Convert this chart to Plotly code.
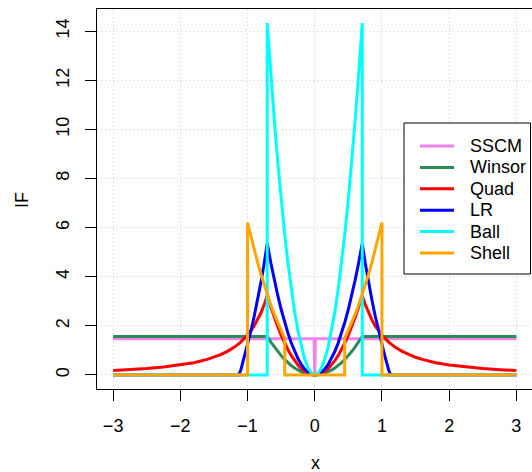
import plotly.graph_objects as go

# ---------------- data ----------------
series_names = ["SSCM", "Winsor", "Quad", "LR", "Ball", "Shell"]
series_colors = ["#EE82EE", "#2E8B57", "#FF0000", "#0000FF", "#00FFFF", "#FFA500"]

sscm_x = [-3.0, -0.01, 0.0, 0.01, 3.0]
sscm_y = [1.47, 1.47, 0.0, 1.47, 1.47]

winsor_x = [-3.0, -0.7071, -0.65, -0.6, -0.55, -0.5, -0.45, -0.4, -0.35, -0.3, -0.25, -0.2, -0.15, -0.1, -0.05,
            0.0, 0.05, 0.1, 0.15, 0.2, 0.25, 0.3, 0.35, 0.4, 0.45, 0.5, 0.55, 0.6, 0.65, 0.7071, 3.0]
winsor_y = [1.57, 1.57, 1.327, 1.13, 0.95, 0.785, 0.636, 0.502, 0.385, 0.283, 0.196, 0.126, 0.071, 0.031, 0.008,
            0.0, 0.008, 0.031, 0.071, 0.126, 0.196, 0.283, 0.385, 0.502, 0.636, 0.785, 0.95, 1.13, 1.327, 1.57, 1.57]

quad_x = [-3.0, -2.75, -2.5, -2.25, -2.0, -1.8, -1.6, -1.5, -1.4, -1.3, -1.2, -1.1, -1.0, -0.95, -0.9, -0.85,
          -0.8, -0.75, -0.7071, -0.65, -0.6, -0.55, -0.5, -0.45, -0.4, -0.35, -0.3, -0.25, -0.2, -0.15, -0.1,
          -0.05, 0.0, 0.05, 0.1, 0.15, 0.2, 0.25, 0.3, 0.35, 0.4, 0.45, 0.5, 0.55, 0.6, 0.65, 0.7071, 0.75, 0.8,
          0.85, 0.9, 0.95, 1.0, 1.1, 1.2, 1.3, 1.4, 1.5, 1.6, 1.8, 2.0, 2.25, 2.5, 2.75, 3.0]
quad_y = [0.18, 0.214, 0.259, 0.32, 0.405, 0.5, 0.633, 0.72, 0.827, 0.959, 1.125, 1.339, 1.62, 1.795, 2.0, 2.242,
          2.531, 2.88, 3.24, 2.738, 2.333, 1.96, 1.62, 1.312, 1.037, 0.794, 0.583, 0.405, 0.259, 0.146, 0.065,
          0.016, 0.0, 0.016, 0.065, 0.146, 0.259, 0.405, 0.583, 0.794, 1.037, 1.312, 1.62, 1.96, 2.333, 2.738, 3.24,
          2.88, 2.531, 2.242, 2.0, 1.795, 1.62, 1.339, 1.125, 0.959, 0.827, 0.72, 0.633, 0.5, 0.405, 0.32, 0.259,
          0.214, 0.18]

lr_x = [-3.0, -1.13, -1.1, -1.05, -1.0, -0.95, -0.9, -0.85, -0.8, -0.75, -0.7071, -0.65, -0.6, -0.55, -0.5, -0.45,
        -0.4, -0.35, -0.3, -0.25, -0.2, -0.15, -0.1, -0.05, 0.0, 0.05, 0.1, 0.15, 0.2, 0.25, 0.3, 0.35, 0.4, 0.45,
        0.5, 0.55, 0.6, 0.65, 0.7071, 0.75, 0.8, 0.85, 0.9, 0.95, 1.0, 1.05, 1.1, 1.13, 3.0]
lr_y = [0.0, 0.0, 0.2, 0.7, 1.23, 1.79, 2.4, 3.06, 3.78, 4.58, 5.35, 4.52, 3.852, 3.237, 2.675, 2.167,
        1.712, 1.311, 0.963, 0.669, 0.428, 0.241, 0.107, 0.027, 0.0, 0.027, 0.107, 0.241, 0.428, 0.669, 0.963,
        1.311, 1.712, 2.167, 2.675, 3.237, 3.852, 4.52, 5.35, 4.58, 3.78, 3.06, 2.4, 1.79, 1.23, 0.7, 0.2, 0.0, 0.0]

ball_x = [-3.0, -0.7072, -0.7071, -0.65, -0.6, -0.55, -0.5, -0.45, -0.4, -0.35, -0.3, -0.25, -0.2, -0.15, -0.1,
          -0.05, 0.0, 0.05, 0.1, 0.15, 0.2, 0.25, 0.3, 0.35, 0.4, 0.45, 0.5, 0.55, 0.6, 0.65, 0.7071, 0.7072, 3.0]
ball_y = [0.0, 0.0, 14.33, 12.11, 10.32, 8.67, 7.165, 5.8, 4.586, 3.511, 2.579, 1.791, 1.146, 0.645, 0.287,
          0.072, 0.0, 0.072, 0.287, 0.645, 1.146, 1.791, 2.579, 3.511, 4.586, 5.8, 7.165, 8.67, 10.32, 12.11, 14.33,
          0.0, 0.0]

shell_x = [-3.0, -1.0001, -1.0, -0.95, -0.9, -0.85, -0.8, -0.75, -0.7, -0.65, -0.6, -0.55, -0.5, -0.446, -0.4459,
           0.4459, 0.446, 0.5, 0.55, 0.6, 0.65, 0.7, 0.75, 0.8, 0.85, 0.9, 0.95, 1.0, 1.0001, 3.0]
shell_y = [0.0, 0.0, 6.2, 5.63, 5.09, 4.58, 4.09, 3.64, 3.22, 2.82, 2.46, 2.12, 1.81, 1.48, 0.0,
           0.0, 1.48, 1.81, 2.12, 2.46, 2.82, 3.22, 3.64, 4.09, 4.58, 5.09, 5.63, 6.2, 0.0, 0.0]

x_ticks = [-3, -2, -1, 0, 1, 2, 3]
y_ticks = [0, 2, 4, 6, 8, 10, 12, 14]

# ---------------- figure ----------------
FONT = "Liberation Sans, Arial, Helvetica, sans-serif"
FS = 18
W, H = 532, 472
ML, MR, MT, MB = 97, 0, 9, 83
PW, PH = W - ML - MR, H - MT - MB

all_x = [sscm_x, winsor_x, quad_x, lr_x, ball_x, shell_x]
all_y = [sscm_y, winsor_y, quad_y, lr_y, ball_y, shell_y]

fig = go.Figure()
for name, color, xs, ys in zip(series_names, series_colors, all_x, all_y):
    fig.add_trace(go.Scatter(x=xs, y=ys, mode="lines", name=name, showlegend=False,
                             line=dict(color=color, width=3)))

axis_common = dict(
    automargin=False,
    showline=True, linecolor="black", linewidth=1, mirror=True,
    ticks="outside", ticklen=11, tickwidth=1, tickcolor="black",
    showgrid=True, gridcolor="#CFCFCF", griddash="1px,3px", gridwidth=1,
    zeroline=False, tickfont=dict(family=FONT, size=FS, color="black"),
)


def px_x(p):
    return (p - ML) / PW


def px_y(p):
    return (H - MB - p) / PH


# legend drawn as a boxed key (R-style legend)
shapes = [dict(type="rect", xref="paper", yref="paper",
               x0=px_x(404), x1=px_x(530.5), y0=px_y(274), y1=px_y(123),
               line=dict(color="black", width=1), fillcolor="white", layer="above")]
annotations = []
row0, step = 146.0, 21.4
for i, (name, color) in enumerate(zip(series_names, series_colors)):
    yc = row0 + i * step
    shapes.append(dict(type="line", xref="paper", yref="paper",
                       x0=px_x(420), x1=px_x(454), y0=px_y(yc), y1=px_y(yc),
                       line=dict(color=color, width=3), layer="above"))
    annotations.append(dict(xref="paper", yref="paper", x=px_x(468), y=px_y(yc),
                            xanchor="left", yanchor="middle", text=name, showarrow=False,
                            font=dict(family=FONT, size=FS, color="black")))

# axis titles
annotations.append(dict(xref="paper", yref="paper", x=px_x(315), y=px_y(463),
                        xanchor="center", yanchor="middle", text="x", showarrow=False,
                        font=dict(family=FONT, size=FS, color="black")))
annotations.append(dict(xref="paper", yref="paper", x=px_x(22), y=px_y(200),
                        xanchor="center", yanchor="middle", text="IF", textangle=-90,
                        showarrow=False, font=dict(family=FONT, size=FS, color="black")))

fig.update_layout(
    width=W, height=H,
    margin=dict(l=ML, r=MR, t=MT, b=MB, pad=0, autoexpand=False),
    paper_bgcolor="white", plot_bgcolor="white",
    font=dict(family=FONT, size=FS, color="black"),
    xaxis=dict(range=[-3.24, 3.233], tickvals=x_ticks, ticklabelstandoff=9, **axis_common),
    yaxis=dict(range=[-0.573, 14.905], tickvals=y_ticks, tickangle=-90, ticklabelstandoff=9,
               **axis_common),
    shapes=shapes,
    annotations=annotations,
    showlegend=False,
)

fig.write_html("out.html")
